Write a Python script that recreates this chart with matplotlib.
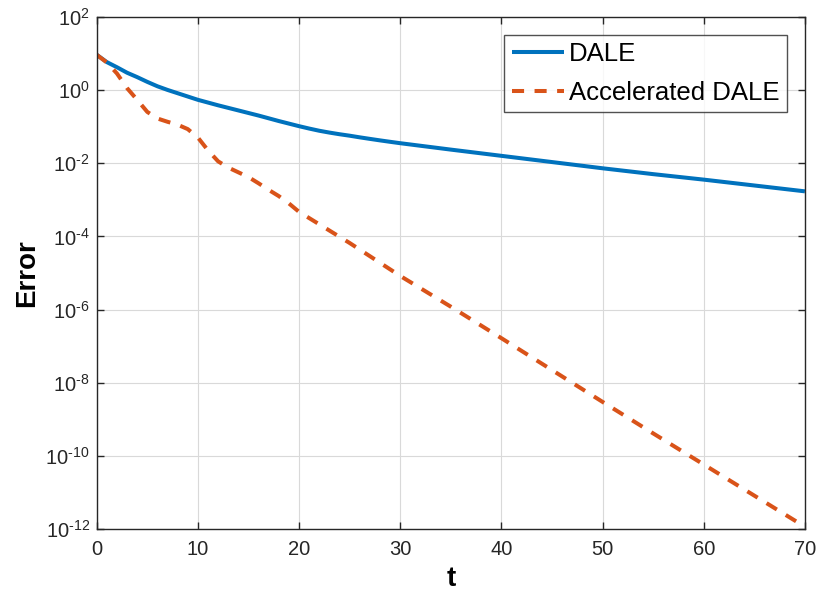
import matplotlib
matplotlib.use("Agg")
import matplotlib.pyplot as plt
import numpy as np

plt.rcParams['font.family'] = ['Liberation Sans', 'DejaVu Sans']
plt.rcParams['mathtext.fontset'] = 'custom'
plt.rcParams['mathtext.rm'] = 'Liberation Sans'
plt.rcParams['mathtext.it'] = 'Liberation Sans:italic'
plt.rcParams['mathtext.bf'] = 'Liberation Sans:bold'
plt.rcParams['axes.unicode_minus'] = False

# Data (log10 of error)
t_dale = [0, 1, 2, 3, 4, 5, 6, 7, 8, 9, 10, 11, 12, 13, 14, 15, 16, 17, 18, 19, 20,
          21, 22, 23, 24, 25, 26, 27, 28, 29, 30, 35, 40, 45, 50, 55, 60, 65, 70]
dale_log = [0.96, 0.76, 0.62, 0.47, 0.35, 0.22, 0.10, 0.00, -0.09, -0.18, -0.27,
            -0.345, -0.42, -0.49, -0.56, -0.63, -0.70, -0.775, -0.85, -0.92, -0.99,
            -1.055, -1.115, -1.165, -1.21, -1.25, -1.295, -1.337, -1.378, -1.417, -1.455,
            -1.63, -1.80, -1.97, -2.14, -2.30, -2.45, -2.61, -2.77]
t_acc = [0, 1, 2, 3, 4, 5, 6, 7, 8, 9, 10, 11, 12, 13, 14, 15, 16, 17, 18, 19, 20,
         25, 30, 35, 40, 45, 50, 55, 60, 65, 70]
acc_log = [0.96, 0.75, 0.45, 0.05, -0.27, -0.60, -0.78, -0.87, -0.95, -1.07, -1.30,
           -1.65, -1.95, -2.12, -2.25, -2.38, -2.55, -2.73, -2.90, -3.10, -3.33,
           -4.18, -5.08, -5.92, -6.78, -7.65, -8.52, -9.38, -10.23, -11.08, -11.93]
series_names = ["DALE", "Accelerated DALE"]
x_ticks = [0, 10, 20, 30, 40, 50, 60, 70]
y_tick_exps = [2, 0, -2, -4, -6, -8, -10, -12]

dale = [10 ** v for v in dale_log]
acc = [10 ** v for v in acc_log]

axcol = (0.15, 0.15, 0.15)
fig = plt.figure(figsize=(8.18, 5.94), dpi=100)
ax = fig.add_axes([0.1182, 0.1089, 0.984 - 0.1182, 0.9719 - 0.1089])

ax.plot(t_dale, dale, color='#0072BD', lw=2.9, label=series_names[0], solid_capstyle='butt')
ax.plot(t_acc, acc, color='#D95319', lw=2.9, ls=(0, (3.0, 2.6)), label=series_names[1],
        dash_capstyle='butt')

ax.set_yscale('log')
ax.set_xlim(0, 70)
ax.set_ylim(1e-12, 1e2)
ax.set_xticks(x_ticks)
ax.set_xticklabels([str(v) for v in x_ticks])
ax.set_yticks([10.0 ** e for e in y_tick_exps])


def ylab(e):
    s = str(e).replace('-', r'\text{-}')
    return r'$\mathregular{10^{%s}}$' % s


ax.set_yticklabels([ylab(e) for e in y_tick_exps])
ax.yaxis.set_minor_locator(matplotlib.ticker.NullLocator())

ax.grid(True, which='major', color=(0.85, 0.85, 0.85), lw=0.8)
ax.set_axisbelow(True)
ax.tick_params(direction='in', length=5, width=1, colors=axcol, labelsize=14.5,
               top=True, right=True)
ax.tick_params(axis='x', pad=8)
ax.tick_params(axis='y', pad=5)
for s in ax.spines.values():
    s.set_color(axcol)
    s.set_linewidth(1.0)

ax.set_xlabel('t', fontsize=20, fontweight='bold', color='black', labelpad=5)
ax.set_ylabel('Error', fontsize=20, fontweight='bold', color='black', labelpad=4)

leg = ax.legend(loc='upper right', fontsize=18.5, frameon=True, fancybox=False,
                edgecolor=axcol, handlelength=2.0, handletextpad=0.2,
                borderaxespad=0.7, borderpad=0.3, labelspacing=0.55)
leg.get_frame().set_linewidth(1.0)

fig.savefig('out.png', dpi=100)
